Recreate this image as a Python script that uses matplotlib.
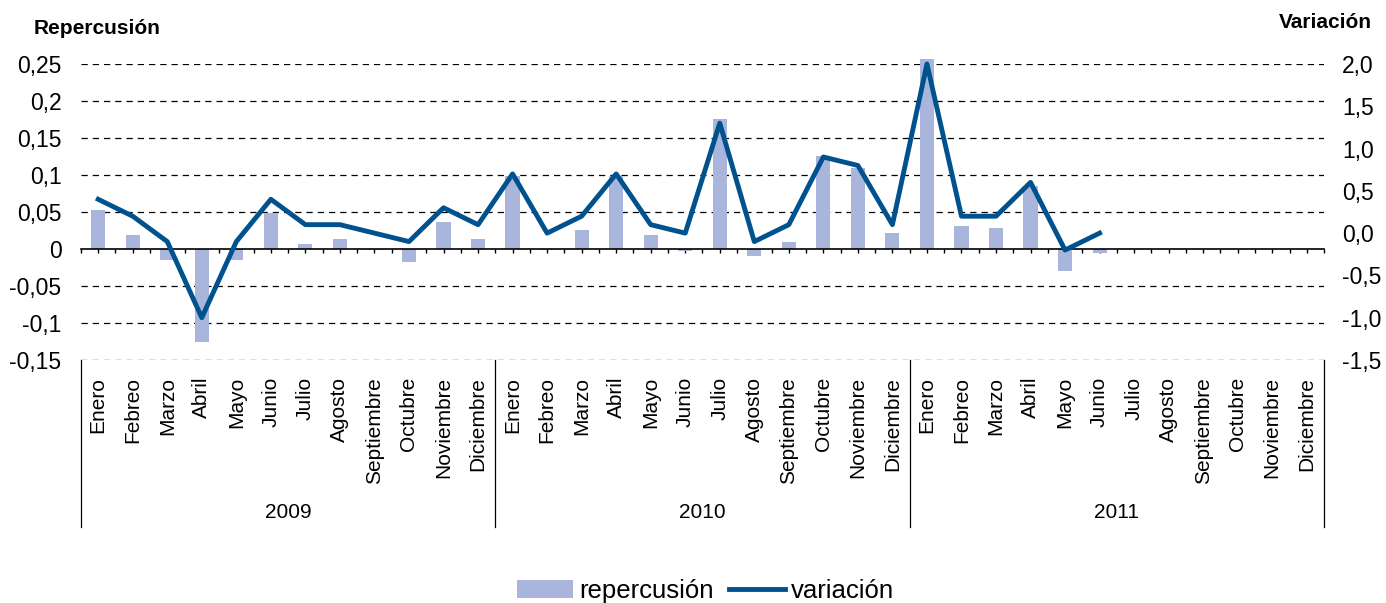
import numpy as np
import matplotlib.pyplot as plt
from matplotlib.patches import Patch
from matplotlib.lines import Line2D

plt.rcParams['font.family'] = ['Liberation Sans', 'DejaVu Sans']

meses = ["Enero", "Febreo", "Marzo", "Abril", "Mayo", "Junio", "Julio", "Agosto",
         "Septiembre", "Octubre", "Noviembre", "Diciembre"]
anios = ["2009", "2010", "2011"]

repercusion = [0.053, 0.019, -0.015, -0.126, -0.015, 0.048, 0.007, 0.014, -0.002, -0.018, 0.037, 0.013,
               0.098, -0.002, 0.025, 0.098, 0.019, -0.003, 0.175, -0.009, 0.010, 0.126, 0.110, 0.021,
               0.257, 0.031, 0.029, 0.085, -0.030, -0.006]
variacion = [0.4, 0.2, -0.1, -1.0, -0.1, 0.4, 0.1, 0.1, 0.0, -0.1, 0.3, 0.1,
             0.7, 0.0, 0.2, 0.7, 0.1, 0.0, 1.3, -0.1, 0.1, 0.9, 0.8, 0.1,
             2.0, 0.2, 0.2, 0.6, -0.2, 0.0]

left_ticks = [0.25, 0.2, 0.15, 0.1, 0.05, 0, -0.05, -0.1, -0.15]
left_labels = ["0,25", "0,2", "0,15", "0,1", "0,05", "0", "-0,05", "-0,1", "-0,15"]
right_ticks = [2.0, 1.5, 1.0, 0.5, 0.0, -0.5, -1.0, -1.5]
right_labels = ["2,0", "1,5", "1,0", "0,5", "0,0", "-0,5", "-1,0", "-1,5"]

bar_color = "#A9B5DA"
line_color = "#00528F"

n_total = len(meses) * len(anios)

fig = plt.figure(figsize=(13.86, 6.03), dpi=100)
ax = fig.add_axes([0.0584, 0.403, 0.8969, 0.4909])
ax2 = ax.twinx()

x_bar = np.arange(len(repercusion))
ax.bar(x_bar, repercusion, width=0.41, color=bar_color, clip_on=False, zorder=2)
x_line = np.arange(len(variacion))
ax2.plot(x_line, variacion, color=line_color, lw=3.5, clip_on=False, zorder=3)

ax.set_xlim(-0.5, n_total - 0.5)
ax.set_ylim(-0.15, 0.25)
ax2.set_ylim(-1.5, 2.0)

# dashed gridlines from left axis
for t in left_ticks:
    if t != 0:
        ax.axhline(t, color="black", lw=0.9, ls=(0, (5, 4)), zorder=1)

ax.set_yticks(left_ticks)
ax.set_yticklabels(left_labels, fontsize=16.5)
ax2.set_yticks(right_ticks)
ax2.set_yticklabels(right_labels, fontsize=16.5)
ax.tick_params(axis='y', length=0, pad=14)
ax2.tick_params(axis='y', length=0, pad=13)

for a in (ax, ax2):
    for s in ("left", "right", "top"):
        a.spines[s].set_visible(False)
ax2.spines["bottom"].set_visible(False)

# zero axis with ticks every half category
ax.spines["bottom"].set_position(("data", 0))
ax.spines["bottom"].set_linewidth(1.2)
ax.set_xticks(np.arange(-0.5, n_total, 0.5))
ax.set_xticklabels([])
ax.tick_params(axis='x', direction='out', length=3, width=1)

# month and year labels
trans = ax.get_xaxis_transform()
for i in range(n_total):
    ax.text(i, -0.057, meses[i % 12], rotation=90, ha="center", va="top",
            fontsize=15, transform=trans)
for k, yr in enumerate(anios):
    ax.text(k * 12 + 5.5, -0.514, yr, ha="center", va="center", fontsize=15,
            transform=trans)
for b in range(len(anios) + 1):
    ax.plot([b * 12 - 0.5, b * 12 - 0.5], [0, -0.564], color="black", lw=0.9,
            transform=trans, clip_on=False)

fig.text(0.024, 0.952, "Repercusión", fontsize=15, fontweight="bold", ha="left", va="center")
fig.text(0.99, 0.962, "Variación", fontsize=15, fontweight="bold", ha="right", va="center")

handles = [Patch(facecolor=bar_color, edgecolor="none"),
           Line2D([0], [0], color=line_color, lw=3.5)]
fig.legend(handles, ["repercusión", "variación"], loc="center",
           bbox_to_anchor=(0.509, 0.02), ncol=2, frameon=False, fontsize=18.5,
           handlelength=2.2, handletextpad=0.23, columnspacing=0.6,
           borderpad=0, borderaxespad=0)

fig.savefig("out.png", dpi=100)
